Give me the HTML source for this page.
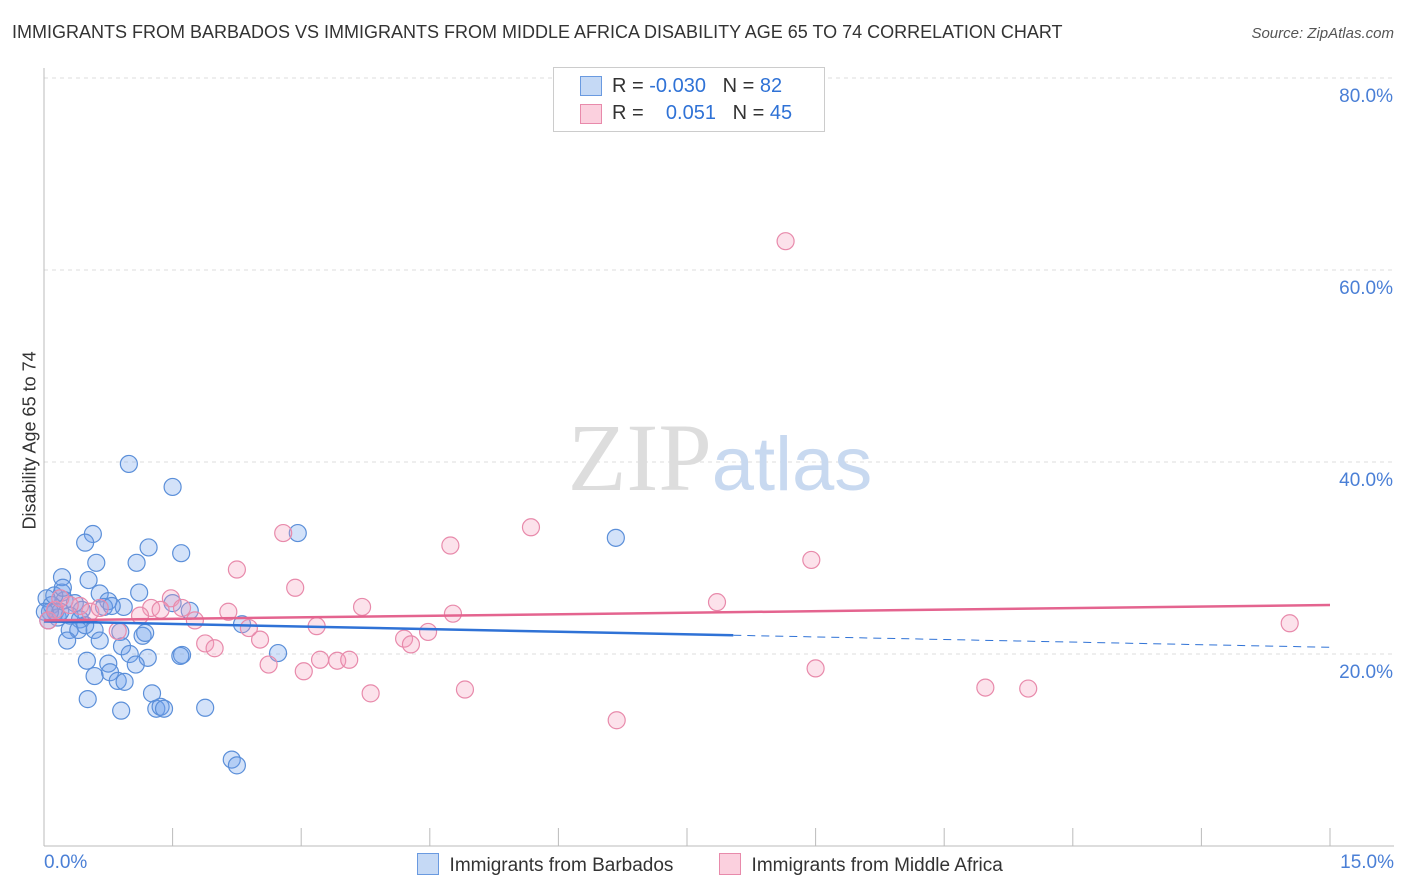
<!DOCTYPE html>
<html><head><meta charset="utf-8"><style>
body{margin:0;background:#fff;font-family:"Liberation Sans",sans-serif;}
#wrap{position:relative;width:1406px;height:892px;overflow:hidden;}
.t{position:absolute;white-space:nowrap;}
</style></head><body>
<div id="wrap">
<div class="t" style="left:12px;top:22px;font-size:18px;color:#333;">IMMIGRANTS FROM BARBADOS VS IMMIGRANTS FROM MIDDLE AFRICA DISABILITY AGE 65 TO 74 CORRELATION CHART</div>
<div class="t" style="right:12px;top:25px;font-size:15px;color:#555;font-style:italic;">Source: ZipAtlas.com</div>
<svg id="svg" width="1406" height="892" style="position:absolute;left:0;top:0"></svg>
</div>
<script>
const blueX=[0.99,1.50,0.57,0.48,1.22,1.60,1.08,0.61,2.96,6.67,0.21,0.52,1.11,0.21,0.24,0.65,0.75,0.93,0.03,0.09,0.13,0.36,0.44,0.70,0.79,1.50,1.70,0.16,0.30,0.42,0.59,0.30,0.40,0.48,0.89,1.15,1.18,0.27,0.65,0.91,1.00,1.21,1.07,0.75,0.50,0.77,0.59,0.86,0.94,1.61,1.59,2.31,2.73,1.26,0.51,0.90,1.31,1.36,1.40,1.88,2.19,2.25,0.07,0.01,0.19,0.05,0.12,0.22];
const blueY=[39.8,37.4,32.5,31.6,31.1,30.5,29.5,29.5,32.6,32.1,28.0,27.7,26.4,26.4,25.6,26.3,25.5,24.9,25.8,25.1,24.4,25.3,24.6,24.9,25.0,25.3,24.5,23.8,24.0,23.6,22.5,22.5,22.5,23.0,22.3,21.9,22.2,21.4,21.4,20.8,20.0,19.6,18.9,19.0,19.3,18.1,17.7,17.2,17.1,19.9,19.8,23.1,20.1,15.9,15.3,14.1,14.3,14.5,14.3,14.4,9.0,8.4,24.4,24.4,24.4,23.5,26.1,26.9];
const pinkX=[8.65,5.68,4.74,2.79,8.95,2.25,2.93,1.48,1.25,1.36,1.61,1.76,2.15,3.71,4.77,7.85,14.53,3.18,0.86,2.52,4.48,4.20,4.28,1.88,1.99,2.39,2.62,3.03,3.22,3.42,3.56,9.00,3.81,4.91,10.98,11.48,6.68,0.05,0.13,0.42,0.54,1.12,0.65,0.30,0.19];
const pinkY=[63.0,33.2,31.3,32.6,29.8,28.8,26.9,25.8,24.8,24.6,24.8,23.5,24.4,24.9,24.2,25.4,23.2,22.9,22.4,21.5,22.3,21.6,21.0,21.1,20.6,22.7,18.9,18.2,19.4,19.3,19.4,18.5,15.9,16.3,16.5,16.4,13.1,23.5,24.6,25.0,24.4,24.0,24.8,25.1,25.8];
const yTicks=[20,40,60,80];
const xTickVals=[0,1.5,3,4.5,6,7.5,9,10.5,12,13.5,15];
const blueTrend=[23.4,20.7]; const blueSolidEnd=8.04;
const pinkTrend=[23.5,25.1];
const sx=v=>44+v/15*1286, sy=v=>846-v*9.6;
const svg=document.getElementById('svg'),NS='http://www.w3.org/2000/svg';
function mk(tag,attrs,parent){const e=document.createElementNS(NS,tag);for(const k in attrs)e.setAttribute(k,attrs[k]);(parent||svg).appendChild(e);return e;}
yTicks.forEach(v=>{
 const l=mk('line',{x1:44,x2:1394,y1:sy(v),y2:sy(v),stroke:'#ddd','stroke-dasharray':'4,4'});
 
 
 const t=mk('text',{x:1393,y:sy(v)+24,'text-anchor':'end','font-size':19,fill:'#4a7fd6','font-family':'Liberation Sans'});
 t.textContent=v.toFixed(1)+'%';
 
 
});
mk('line',{x1:44,x2:44,y1:68,y2:846,stroke:'#bbb'});
mk('line',{x1:44,x2:1394,y1:846,y2:846,stroke:'#bbb'});
xTickVals.forEach(v=>{const l=mk('line',{x1:sx(v),x2:sx(v),y1:828,y2:846,stroke:'#bbb'});
 
 });
const wm=mk('text',{x:720,y:490,'text-anchor':'middle','font-size':96,'font-family':'Liberation Serif',fill:'#ddd'});
wm.innerHTML='ZIP<tspan fill="#c8d9f0" font-family="Liberation Sans" font-size="76">atlas</tspan>';


blueX.forEach((x,i)=>{const c=mk('circle',{cx:sx(x),cy:sy(blueY[i]),r:8.5,fill:'rgba(110,160,235,0.3)',stroke:'#5b8fd9','stroke-width':1.2});
 
 });
pinkX.forEach((x,i)=>{const c=mk('circle',{cx:sx(x),cy:sy(pinkY[i]),r:8.5,fill:'rgba(245,160,190,0.3)',stroke:'#e88aab','stroke-width':1.2});
 
 });
const by=x=>blueTrend[0]+(blueTrend[1]-blueTrend[0])*x/15;
const b1=mk('line',{x1:sx(0),y1:sy(by(0)),x2:sx(blueSolidEnd),y2:sy(by(blueSolidEnd)),stroke:'#2f72d6','stroke-width':2.5});


const b2=mk('line',{x1:sx(blueSolidEnd),y1:sy(by(blueSolidEnd)),x2:sx(15),y2:sy(by(15)),stroke:'#2f72d6','stroke-width':1,'stroke-dasharray':'8,6'});


const p1=mk('line',{x1:sx(0),y1:sy(pinkTrend[0]),x2:sx(15),y2:sy(pinkTrend[1]),stroke:'#e4648f','stroke-width':2.5});


</script>
<div class="t" style="left:-45px;top:444px;transform:rotate(-90deg);font-size:18px;color:#333;width:150px;text-align:center;">Disability Age 65 to 74</div>
<div class="t" style="left:44px;top:852px;font-size:19px;color:#4a7fd6;">0.0%</div>
<div class="t" style="right:12px;top:852px;font-size:19px;color:#4a7fd6;">15.0%</div>
<div style="position:absolute;left:553px;top:67px;width:270px;height:63px;border:1px solid #ccc;background:#fff;font-size:20px;color:#333;">
 <div style="position:absolute;left:26px;top:8px;width:20px;height:18px;background:#c5d9f5;border:1px solid #6a9ae0;"></div>
 <div class="t" style="left:58px;top:7px;">R = <span style="color:#2f72d6">-0.030</span>&nbsp;&nbsp;&nbsp;N = <span style="color:#2f72d6">82</span></div>
 <div style="position:absolute;left:26px;top:36px;width:20px;height:18px;background:#fbd0de;border:1px solid #e88aab;"></div>
 <div class="t" style="left:58px;top:34px;">R = &nbsp;&nbsp;&nbsp;<span style="color:#2f72d6">0.051</span>&nbsp;&nbsp;&nbsp;N = <span style="color:#2f72d6">45</span></div>
</div>
<div style="position:absolute;left:417px;top:853px;font-size:19px;color:#333;">
 <span style="display:inline-block;width:20px;height:20px;background:#c5d9f5;border:1px solid #6a9ae0;vertical-align:-4px;"></span>&nbsp;&nbsp;Immigrants from Barbados</div>
<div style="position:absolute;left:719px;top:853px;font-size:19px;color:#333;">
 <span style="display:inline-block;width:20px;height:20px;background:#fbd0de;border:1px solid #e88aab;vertical-align:-4px;"></span>&nbsp;&nbsp;Immigrants from Middle Africa</div>
</body></html>
